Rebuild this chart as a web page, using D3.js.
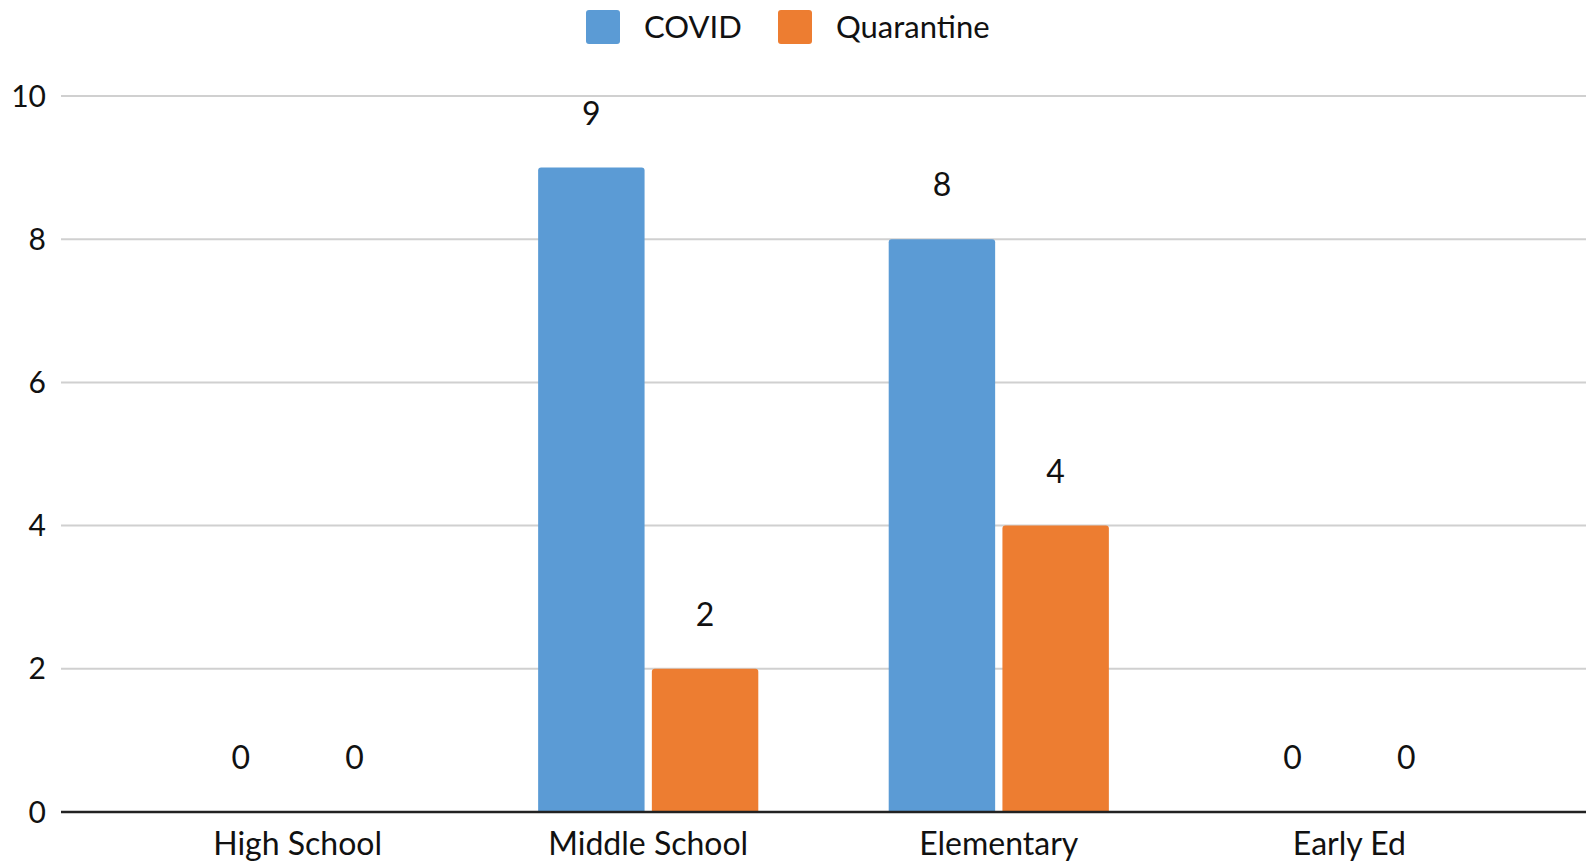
<!DOCTYPE html>
<html>
<head>
<meta charset="utf-8">
<script src="https://cdn.jsdelivr.net/npm/d3@7"></script>
<style>
  body { margin: 0; background: #fff; }
  svg text { font-family: Lato, "Open Sans", sans-serif; fill: #111; }
</style>
</head>
<body>
<svg id="chart" width="1589" height="862"></svg>
<script>
const categories = ["High School", "Middle School", "Elementary", "Early Ed"];
const seriesNames = ["COVID", "Quarantine"];
const covidValues = [0, 9, 8, 0];
const quarantineValues = [0, 2, 4, 0];
const yTicks = [0, 2, 4, 6, 8, 10];

const colors = { COVID: "#5B9BD5", Quarantine: "#ED7D31" };

const svg = d3.select("#chart");
const plotLeft = 61, plotRight = 1586, plotTop = 96, plotBottom = 812;

const rows = categories.map((c, i) => ({
  category: c,
  values: [
    { key: "COVID", value: covidValues[i] },
    { key: "Quarantine", value: quarantineValues[i] }
  ]
}));

const x = d3.scaleBand()
  .domain(categories)
  .range([plotLeft, plotRight])
  .paddingInner(0.372)
  .paddingOuter(0.361);

const xSub = d3.scaleBand()
  .domain(seriesNames)
  .range([0, x.bandwidth()])
  .paddingInner(0.064);

const y = d3.scaleLinear()
  .domain([0, 10])
  .range([plotBottom, plotTop]);

// gridlines
svg.append("g")
  .selectAll("line")
  .data(yTicks.filter(d => d > 0))
  .join("line")
  .attr("x1", plotLeft)
  .attr("x2", plotRight)
  .attr("y1", d => y(d))
  .attr("y2", d => y(d))
  .attr("stroke", "#d0d0d0")
  .attr("stroke-width", 2);

// y tick labels
svg.append("g")
  .selectAll("text")
  .data(yTicks)
  .join("text")
  .attr("x", 46)
  .attr("y", d => y(d))
  .attr("dy", "0.35em")
  .attr("text-anchor", "end")
  .attr("font-size", 30)
  .text(d => d);

// bars
const groups = svg.append("g")
  .selectAll("g")
  .data(rows)
  .join("g")
  .attr("transform", d => `translate(${x(d.category)},0)`);

function barPath(x0, w, y0, y1, r) {
  const h = y1 - y0;
  if (h <= 0) return "";
  r = Math.min(r, h, w / 2);
  return `M${x0},${y1}V${y0 + r}Q${x0},${y0} ${x0 + r},${y0}H${x0 + w - r}Q${x0 + w},${y0} ${x0 + w},${y0 + r}V${y1}Z`;
}

groups.selectAll("path")
  .data(d => d.values)
  .join("path")
  .attr("d", d => barPath(xSub(d.key), xSub.bandwidth(), y(d.value), y(0), 3))
  .attr("fill", d => colors[d.key]);

groups.selectAll("text")
  .data(d => d.values)
  .join("text")
  .attr("x", d => xSub(d.key) + xSub.bandwidth() / 2)
  .attr("y", d => y(d.value) - 54)
  .attr("dy", "0.35em")
  .attr("text-anchor", "middle")
  .attr("font-size", 32)
  .text(d => d.value);

// baseline
svg.append("line")
  .attr("x1", plotLeft)
  .attr("x2", plotRight)
  .attr("y1", y(0))
  .attr("y2", y(0))
  .attr("stroke", "#222")
  .attr("stroke-width", 2.5);

// x axis labels
svg.append("g")
  .selectAll("text")
  .data(categories)
  .join("text")
  .attr("x", d => x(d) + x.bandwidth() / 2)
  .attr("y", 844)
  .attr("dy", "0.35em")
  .attr("text-anchor", "middle")
  .attr("font-size", 32)
  .text(d => d);

// legend
const legendX = [586, 778];
const legend = svg.append("g")
  .selectAll("g")
  .data(seriesNames)
  .join("g")
  .attr("transform", (d, i) => `translate(${legendX[i]},10)`);

legend.append("rect")
  .attr("width", 34)
  .attr("height", 34)
  .attr("rx", 3)
  .attr("fill", d => colors[d]);

legend.append("text")
  .attr("x", 58)
  .attr("y", 17)
  .attr("dy", "0.35em")
  .attr("font-size", 31)
  .text(d => d);
</script>
</body>
</html>
